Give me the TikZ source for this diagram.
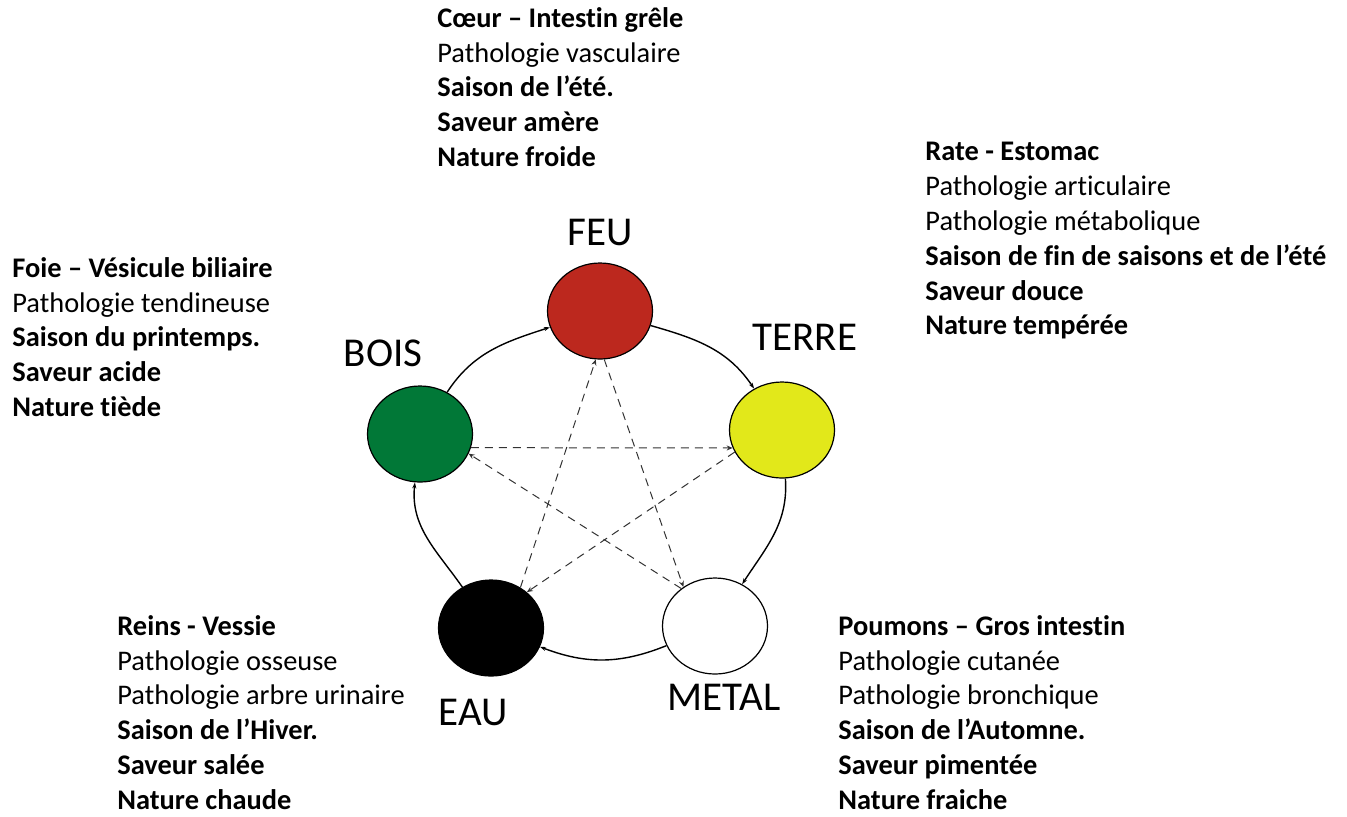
\documentclass[tikz,border=0pt]{standalone}
\usepackage{fontspec}
\setmainfont{Carlito}[Ligatures=NoCommon]
\usetikzlibrary{positioning, arrows.meta, shapes.geometric}

\definecolor{feuRed}{RGB}{188,40,30}
\definecolor{boisGreen}{RGB}{1,120,55}
\definecolor{terreYellow}{RGB}{226,232,26}

\begin{document}
\begin{tikzpicture}[x=0.5pt, y=0.5pt,
  elem/.style={draw, ellipse, line width=0.6pt, minimum width=52.5pt, minimum height=48pt, inner sep=0pt},
  elabel/.style={inner sep=0pt, font=\fontsize{20.5}{24}\selectfont},
  info/.style={anchor=north west, align=left, inner sep=0pt, font=\fontsize{14.2}{17.4}\selectfont},
  cyc/.style={-{Stealth[length=3pt, width=2pt]}, line width=0.7pt},
  ctrl/.style={-{Stealth[length=3pt, width=2.5pt]}, dash pattern=on 4pt off 3pt, line width=0.5pt, black!80}
]
\useasboundingbox (0,0) rectangle (1347,-816);

% the five elements
\node (feu) [elem, fill=feuRed] at (600,-311) {};
\node (terre) [elem, fill=terreYellow] at (782,-430) {};
\node (metal) [elem, fill=white] at (715,-626) {};
\node (eau) [elem, fill=black] at (491,-628) {};
\node (bois) [elem, fill=boisGreen] at (420,-434) {};

\node (feuL) [elabel, above=8pt of feu] {FEU};
\node (terreL) [elabel] at (805,-337) {TERRE};
\node (metalL) [elabel] at (724,-697) {METAL};
\node (eauL) [elabel] at (473,-712) {EAU};
\node (boisL) [elabel] at (383,-353) {BOIS};

% generating cycle
\draw[cyc] (bois) to[out=57, in=198] (feu);
\draw[cyc] (feu) to[out=-16, in=124] (terre);
\draw[cyc] (terre) to[out=-86, in=57] (metal);
\draw[cyc] (metal) to[out=-158, in=-21] (eau);
\draw[cyc] (eau) to[out=125, in=-96] (bois);

% controlling star
\draw[ctrl] (bois.-15) -- (terre.200);
\draw[ctrl] (terre.205) -- (eau.45);
\draw[ctrl] (eau.54) -- (feu.-95);
\draw[ctrl] (feu.-85) -- (metal.129);
\draw[ctrl] (metal.132) -- (bois.-22);

% descriptions
\node (feuT) [info] at (437,-7) {\textbf{Cœur – Intestin grêle}\\ Pathologie vasculaire\\ \textbf{Saison de l’été.}\\ \textbf{Saveur amère}\\ \textbf{Nature froide}};
\node (terreT) [info] at (925,-142) {\textbf{Rate - Estomac}\\ Pathologie articulaire\\ Pathologie métabolique\\ \textbf{Saison de fin de saisons et de l’été}\\ \textbf{Saveur douce}\\ \textbf{Nature tempérée}};
\node (boisT) [info] at (12,-257) {\textbf{Foie – Vésicule biliaire}\\ Pathologie tendineuse\\ \textbf{Saison du printemps.}\\ \textbf{Saveur acide}\\ \textbf{Nature tiède}};
\node (eauT) [info] at (117,-615) {\textbf{Reins - Vessie}\\ Pathologie osseuse\\ Pathologie arbre urinaire\\ \textbf{Saison de l’Hiver.}\\ \textbf{Saveur salée}\\ \textbf{Nature chaude}};
\node (metalT) [info] at (838,-615) {\textbf{Poumons – Gros intestin}\\ Pathologie cutanée\\ Pathologie bronchique\\ \textbf{Saison de l’Automne.}\\ \textbf{Saveur pimentée}\\ \textbf{Nature fraiche}};
\end{tikzpicture}
\end{document}
